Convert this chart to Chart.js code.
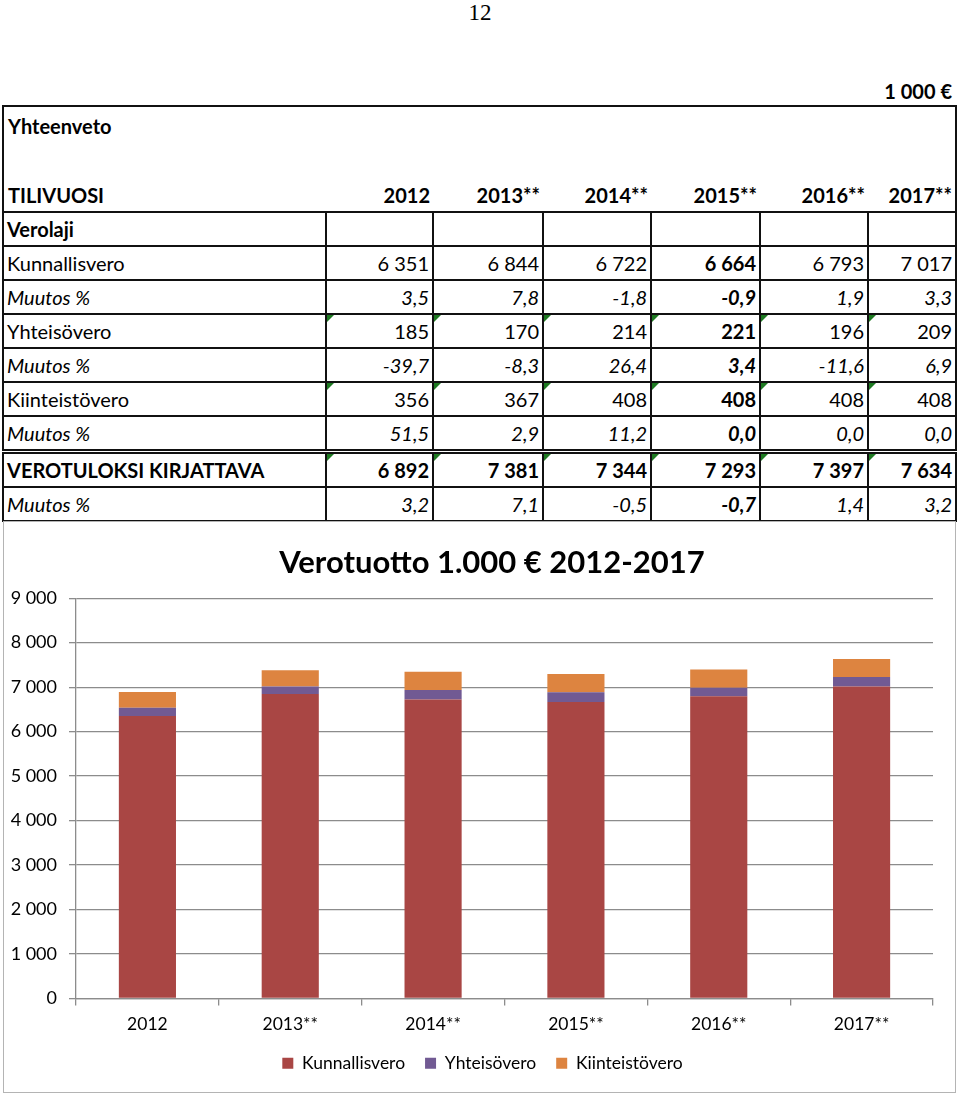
<!DOCTYPE html>
<html>
<head>
<meta charset="utf-8">
<script src="https://cdn.jsdelivr.net/npm/chart.js@4"></script>
<style>
  body { margin: 0; width: 960px; height: 1095px; background: #fff; position: relative; overflow: hidden; font-family: Lato, "Open Sans", sans-serif; }
  #pagenum { position: absolute; top: 0; left: 0; width: 960px; text-align: center; font-family: "Liberation Serif", serif; font-size: 23px; line-height: 26px; }
  #unit { position: absolute; top: 79px; right: 8px; font-weight: bold; font-size: 20px; }
  table { position: absolute; left: 2px; top: 105px; border-collapse: collapse; table-layout: fixed; font-size: 20px; }
  td { padding: 0 3px; white-space: nowrap; overflow: visible; position: relative; line-height: 24px; }
  td.num { text-align: right; }
  tr.grid td { border: 2px solid #111; height: 32px; }
  tr.bold td { font-weight: bold; }
  tr.pct td { font-style: italic; }
  tr.dbl td { border-top: 5px double #111; }
  td.b2015 { font-weight: bold; }
  td.tri::before { content: ""; position: absolute; left: 0; top: 0; border-top: 7px solid #1e7a22; border-right: 7px solid transparent; }
  #chartBox { position: absolute; left: 3px; top: 521px; width: 951px; height: 570px; border: 1px solid #b4b4b4; background: #fff; }
</style>
</head>
<body>
<div id="pagenum">12</div>
<div id="unit">1 000 €</div>
<table id="tbl"></table>
<div id="chartBox"><canvas id="myChart"></canvas></div>
<script>
const years = ['2012', '2013**', '2014**', '2015**', '2016**', '2017**'];
const kunnallisvero = [6351, 6844, 6722, 6664, 6793, 7017];
const kunnallisveroMuutos = ['3,5', '7,8', '-1,8', '-0,9', '1,9', '3,3'];
const yhteisovero = [185, 170, 214, 221, 196, 209];
const yhteisoveroMuutos = ['-39,7', '-8,3', '26,4', '3,4', '-11,6', '6,9'];
const kiinteistovero = [356, 367, 408, 408, 408, 408];
const kiinteistoveroMuutos = ['51,5', '2,9', '11,2', '0,0', '0,0', '0,0'];
const verotulot = [6892, 7381, 7344, 7293, 7397, 7634];
const verotulotMuutos = ['3,2', '7,1', '-0,5', '-0,7', '1,4', '3,2'];

const colWidths = [323, 107, 110, 108, 109, 108, 88];

// format 6351 -> "6 351"
function fmt(v) {
  return String(v).replace(/\B(?=(\d{3})+(?!\d))/g, ' ');
}

// taulukko
const tbl = document.getElementById('tbl');
let html = '<colgroup>' + colWidths.map(w => '<col style="width:' + w + 'px">').join('') + '</colgroup>';
html += '<tr><td colspan="7" style="border:2px solid #111;border-bottom:none;height:38px;font-weight:bold;padding-left:4px">Yhteenveto</td></tr>';
html += '<tr><td colspan="7" style="border-left:2px solid #111;border-right:2px solid #111;height:34px"></td></tr>';
html += '<tr style="font-weight:bold"><td style="border-left:2px solid #111;border-bottom:2px solid #111;height:32px;padding-left:4px">TILIVUOSI</td>' +
  years.map((y, i) => '<td class="num" style="border-bottom:2px solid #111;' + (i == 5 ? 'border-right:2px solid #111' : '') + '">' + y + '</td>').join('') + '</tr>';

function row(label, vals, cls, tri) {
  let s = '<tr class="grid ' + cls + '"><td>' + label + '</td>';
  vals.forEach((v, i) => {
    const c = ['num'];
    if (i == 3) c.push('b2015');
    if (tri) c.push('tri');
    s += '<td class="' + c.join(' ') + '">' + v + '</td>';
  });
  return s + '</tr>';
}
html += row('<b>Verolaji</b>', ['', '', '', '', '', ''], '', false);
html += row('Kunnallisvero', kunnallisvero.map(fmt), '', false);
html += row('Muutos %', kunnallisveroMuutos, 'pct', false);
html += row('Yhteisövero', yhteisovero.map(fmt), '', true);
html += row('Muutos %', yhteisoveroMuutos, 'pct', false);
html += row('Kiinteistövero', kiinteistovero.map(fmt), '', true);
html += row('Muutos %', kiinteistoveroMuutos, 'pct', false);
html += row('VEROTULOKSI KIRJATTAVA', verotulot.map(fmt), 'bold dbl', true);
html += row('Muutos %', verotulotMuutos, 'pct', false);
tbl.innerHTML = html;

// kaavio
const gridColor = '#8c8c8c';
const chartFont = 'Lato, "Open Sans", sans-serif';

const data = {
  labels: years,
  datasets: [
    { label: 'Kunnallisvero', data: kunnallisvero, backgroundColor: '#a94644' },
    { label: 'Yhteisövero', data: yhteisovero, backgroundColor: '#715a93' },
    { label: 'Kiinteistövero', data: kiinteistovero, backgroundColor: '#dd8440' }
  ]
};

// otsikko ja selite hieman oikealle kuten alkuperäisessä
const boxShift = {
  id: 'boxShift',
  afterLayout(chart) {
    if (chart.titleBlock) chart.titleBlock.left += 47;
    if (chart.legend) chart.legend.left += 28;
  }
};

const config = {
  type: 'bar',
  data: data,
  options: {
    responsive: true,
    maintainAspectRatio: false,
    animation: false,
    barPercentage: 0.4,
    categoryPercentage: 1.0,
    layout: { padding: { left: 0, right: 22, top: 0, bottom: 10 } },
    plugins: {
      title: {
        display: true,
        text: 'Verotuotto 1.000 € 2012-2017',
        color: '#000',
        font: { family: chartFont, size: 31, weight: 'bold' },
        padding: { top: 22, bottom: 17 }
      },
      legend: {
        position: 'bottom',
        labels: {
          color: '#000',
          boxWidth: 11,
          boxHeight: 11,
          padding: 20,
          font: { family: chartFont, size: 17.5 }
        }
      },
      tooltip: { enabled: false }
    },
    scales: {
      x: {
        stacked: true,
        grid: { offset: true, drawOnChartArea: false, color: gridColor, tickLength: 7, lineWidth: 1.3 },
        border: { color: gridColor, width: 1.3 },
        ticks: { color: '#000', padding: 8, font: { family: chartFont, size: 17.5 } },
        afterFit: function (scale) { scale.height = 36; }
      },
      y: {
        stacked: true,
        min: 0,
        max: 9000,
        grid: { color: gridColor, tickLength: 7, lineWidth: 1.3 },
        border: { color: gridColor, width: 1.3 },
        ticks: {
          stepSize: 1000,
          color: '#000',
          padding: 12,
          font: { family: chartFont, size: 18 },
          callback: function (v) { return fmt(v); }
        },
        afterFit: function (scale) { scale.width = 72; }
      }
    }
  },
  plugins: [boxShift]
};

const myChart = new Chart(document.getElementById('myChart'), config);
</script>
</body>
</html>
